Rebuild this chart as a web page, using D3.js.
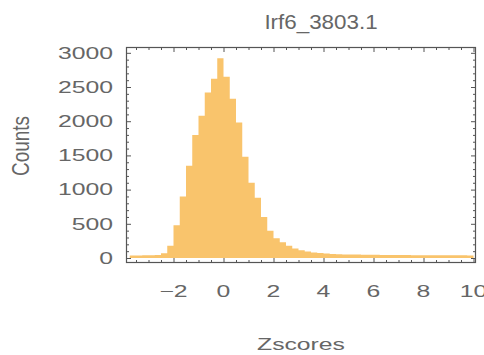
<!DOCTYPE html>
<html>
<head>
<meta charset="utf-8">
<script src="https://cdn.jsdelivr.net/npm/d3@7"></script>
<style>
  html, body { margin: 0; padding: 0; background: #fff; }
  svg { display: block; font-family: "Liberation Sans", Arial, sans-serif; }
  .lbl { fill: #666; }
</style>
</head>
<body>
<svg id="chart" width="484" height="355"></svg>
<script>
const TITLE = "Irf6_3803.1";
const X_LABEL = "Zscores";
const Y_LABEL = "Counts";

// histogram bins: left edge of first bin and width, counts per bin
const BIN_START = -3.75;
const BIN_WIDTH = 0.25;
const COUNTS = [
  35, 38, 40, 42, 45, 70, 180, 480, 900, 1350,
  1800, 2080, 2420, 2620, 2920, 2650, 2330, 1980, 1480, 1100,
  880, 600, 400, 290, 230, 180, 140, 115, 95, 82,
  72, 65, 60, 56, 53, 51, 50, 48, 47, 46,
  45, 44, 44, 43, 43, 42, 42, 41, 41, 40,
  40, 40, 39, 39, 38
];

const X_TICKS = [-2, 0, 2, 4, 6, 8, 10];
const X_MINOR = [-3.5, -3, -2.5, -1.5, -1, -0.5, 0.5, 1, 1.5, 2.5, 3, 3.5, 4.5, 5, 5.5, 6.5, 7, 7.5, 8.5, 9, 9.5];
const Y_TICKS = [0, 500, 1000, 1500, 2000, 2500, 3000];
const Y_MINOR = [100, 200, 300, 400, 600, 700, 800, 900, 1100, 1200, 1300, 1400, 1600, 1700, 1800, 1900,
  2100, 2200, 2300, 2400, 2600, 2700, 2800, 2900];

const SX = 1.5; // text in the picture is stretched horizontally
const box = { left: 126, right: 476, top: 47, bottom: 263 };

const svg = d3.select("#chart");
const x = d3.scaleLinear().domain([-3.9, 10.1]).range([box.left, box.right]);
const y = d3.scaleLinear().domain([-73, 3085]).range([box.bottom, box.top]);

// step outline: one point per bin edge, the last edge repeats the last count
const steps = COUNTS.map((c, i) => ({ x: BIN_START + i * BIN_WIDTH, c }));
steps.push({ x: BIN_START + COUNTS.length * BIN_WIDTH, c: COUNTS[COUNTS.length - 1] });

const area = d3.area()
  .curve(d3.curveStepAfter)
  .x((d) => x(d.x))
  .y0(y(0))
  .y1((d) => y(d.c));

svg.append("path")
  .datum(steps)
  .attr("d", area)
  .attr("fill", "#f9c46c");

function ticks(axis, pos) {
  const g = svg.append("g").attr("transform", pos).call(axis);
  g.select(".domain").remove();
  g.selectAll("line").attr("stroke", "#555");
  return g;
}

// inward ticks on all four sides
ticks(d3.axisBottom(x).tickValues(X_TICKS).tickSize(-5).tickFormat(""), `translate(0,${box.bottom})`);
ticks(d3.axisBottom(x).tickValues(X_MINOR).tickSize(-3).tickFormat(""), `translate(0,${box.bottom})`);
ticks(d3.axisTop(x).tickValues(X_TICKS).tickSize(-5).tickFormat(""), `translate(0,${box.top})`);
ticks(d3.axisTop(x).tickValues(X_MINOR).tickSize(-3).tickFormat(""), `translate(0,${box.top})`);
ticks(d3.axisLeft(y).tickValues(Y_TICKS).tickSize(-5).tickFormat(""), `translate(${box.left},0)`);
ticks(d3.axisLeft(y).tickValues(Y_MINOR).tickSize(-3).tickFormat(""), `translate(${box.left},0)`);
ticks(d3.axisRight(y).tickValues(Y_TICKS).tickSize(-5).tickFormat(""), `translate(${box.right},0)`);
ticks(d3.axisRight(y).tickValues(Y_MINOR).tickSize(-3).tickFormat(""), `translate(${box.right},0)`);

svg.append("rect")
  .attr("x", box.left + 0.5).attr("y", box.top + 0.5)
  .attr("width", box.right - box.left - 1).attr("height", box.bottom - box.top - 1)
  .attr("fill", "none").attr("stroke", "#555").attr("stroke-width", 1.2);

const fs = 16.5;

svg.append("g")
  .selectAll("text")
  .data(X_TICKS)
  .join("text")
  .attr("class", "lbl")
  .attr("font-size", fs)
  .attr("text-anchor", "middle")
  .attr("transform", (d) => `translate(${x(d)},297) scale(${SX},1)`)
  .text((d) => (d < 0 ? "\u2212" + Math.abs(d) : d));

svg.append("g")
  .selectAll("text")
  .data(Y_TICKS)
  .join("text")
  .attr("class", "lbl")
  .attr("font-size", fs)
  .attr("text-anchor", "end")
  .attr("dy", "0.35em")
  .attr("transform", (d) => `translate(113,${y(d)}) scale(${SX},1)`)
  .text((d) => d);

svg.append("text")
  .attr("class", "lbl")
  .attr("font-size", fs)
  .attr("text-anchor", "middle")
  .attr("transform", `translate(301,350) scale(${SX},1)`)
  .text(X_LABEL);

svg.append("text")
  .attr("class", "lbl")
  .attr("font-size", 19)
  .attr("text-anchor", "middle")
  .attr("transform", `translate(29,146) rotate(-90) scale(1,1.3)`)
  .text(Y_LABEL);

svg.append("text")
  .attr("class", "lbl")
  .attr("font-size", 20)
  .attr("text-anchor", "middle")
  .attr("transform", `translate(321,29) scale(1.12,1)`)
  .text(TITLE);
</script>
</body>
</html>
